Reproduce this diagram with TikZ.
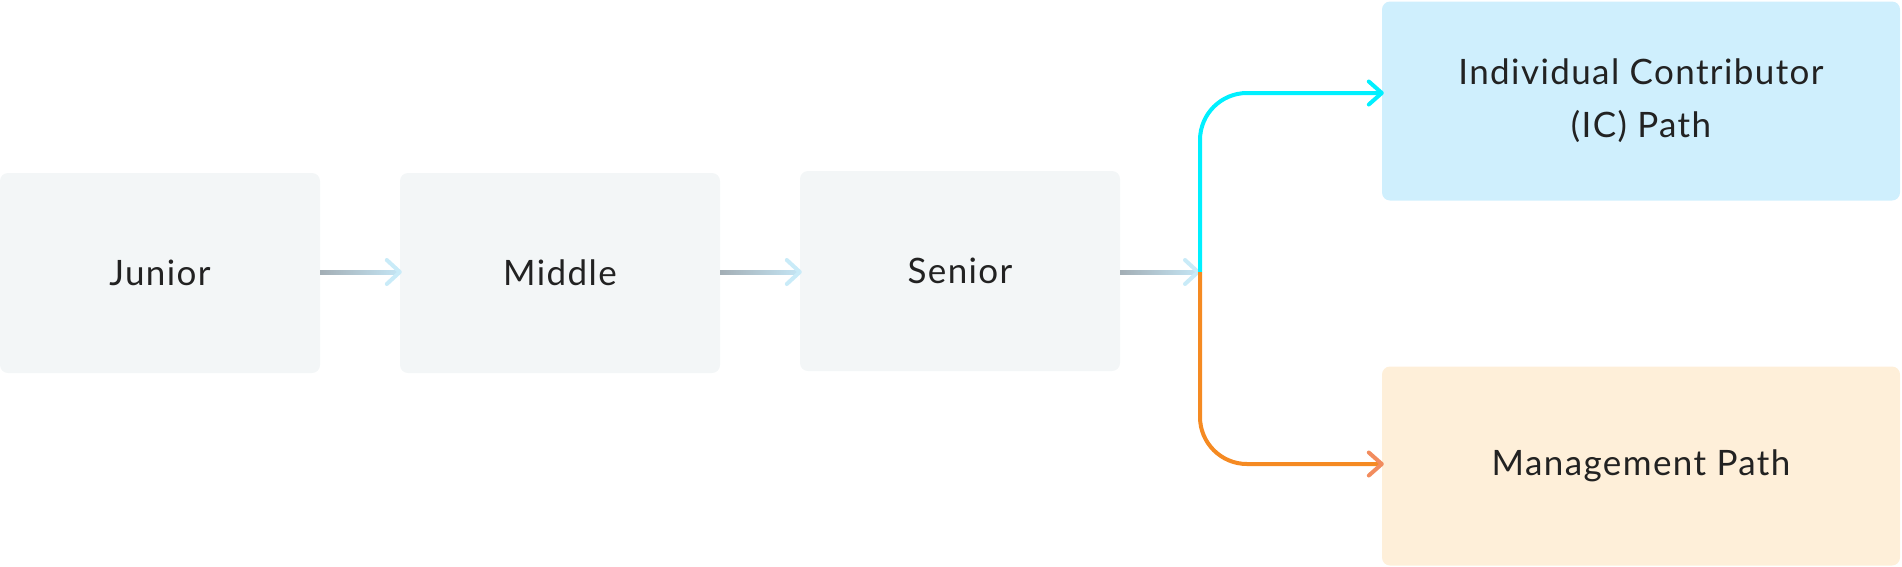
\documentclass[tikz,border=0pt]{standalone}
\usepackage{fontspec}
\setmainfont{Lato}[LetterSpace=4]
\usetikzlibrary{calc}
\definecolor{boxgray}{HTML}{F3F6F7}
\definecolor{boxblue}{HTML}{CFEFFD}
\definecolor{boxorange}{HTML}{FEEFD9}
\definecolor{txt}{HTML}{222222}
\definecolor{shaftgray}{HTML}{A3AEB5}
\definecolor{shaftblue}{HTML}{C4E5F4}
\definecolor{headblue}{HTML}{C9EBF8}
\definecolor{icline}{HTML}{00F0FF}
\definecolor{mgline}{HTML}{F58A22}
\definecolor{mghead}{HTML}{F28C5E}
\begin{document}
\begin{tikzpicture}[x=1pt,y=-1pt,
  stage/.style={fill=boxgray, draw=none, rounded corners=8pt, minimum width=320pt, minimum height=200pt, inner sep=0pt, text=txt, font=\fontsize{35}{53}\selectfont, align=center},
  pathbox/.style={stage, minimum width=518pt, minimum height=199pt},
  headv/.style={line width=4pt, line cap=round, line join=round},
  branch/.style={line width=4pt, rounded corners=47pt}]
\useasboundingbox (0,0) rectangle (1902,566);
\node[stage] (j) at (160,273) {Junior};
\node[stage] (m) at (560,273) {Middle};
\node[stage] (s) at (960,271) {Senior};
\node[pathbox, fill=boxblue] (ic) at (1641,101) {Individual Contributor\\(IC) Path};
\node[pathbox, fill=boxorange] (mg) at (1641,466) {Management Path};
\coordinate (split) at (1200,272);
% grey gradient connectors
\shade[left color=shaftgray, right color=shaftblue] ($(j.east|-split)+(0,-2)$) rectangle ($(m.west|-split)+(-1,2)$);
\draw[headblue, headv] ($(m.west|-split)+(-13,-12)$) -- (m.west|-split) -- ($(m.west|-split)+(-13,12)$);
\shade[left color=shaftgray, right color=shaftblue] ($(m.east|-split)+(0,-2)$) rectangle ($(s.west|-split)+(-1,2)$);
\draw[headblue, headv] ($(s.west|-split)+(-13,-12)$) -- (s.west|-split) -- ($(s.west|-split)+(-13,12)$);
\shade[left color=shaftgray, right color=shaftblue] ($(s.east|-split)+(0,-2)$) rectangle ($(split)+(-3,2)$);
\draw[headblue, headv] ($(split)+(-15,-12)$) -- ($(split)+(-2,0)$) -- ($(split)+(-15,12)$);
% branches
\coordinate (icin) at ([yshift=8pt]ic.west);
\coordinate (mgin) at ([yshift=2pt]mg.west);
\draw[icline, branch] (split) |- ($(icin)+(-2,0)$);
\draw[icline, headv] ($(icin)+(-13,-11.5)$) -- (icin) -- ($(icin)+(-13,11.5)$);
\draw[mgline, branch] (split) |- ($(mgin)+(-2,0)$);
\draw[mghead, headv] ($(mgin)+(-13,-11.5)$) -- (mgin) -- ($(mgin)+(-13,11.5)$);
\end{tikzpicture}
\end{document}
